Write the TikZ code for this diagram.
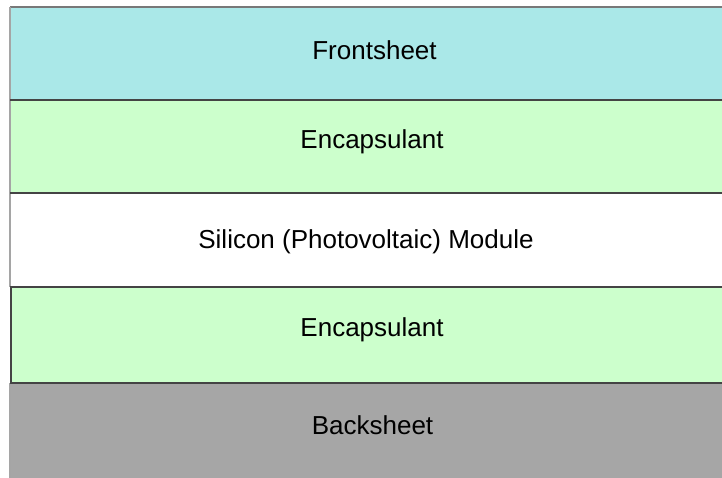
\documentclass[tikz,border=0pt]{standalone}
\usepackage{fontspec}
\setmainfont{Liberation Sans}
\definecolor{frontc}{RGB}{170,232,232}
\definecolor{encc}{RGB}{204,255,204}
\definecolor{backc}{RGB}{166,166,166}
\definecolor{darkline}{RGB}{68,68,68}
\definecolor{topgray}{RGB}{120,120,120}
\definecolor{leftgray}{RGB}{165,165,165}
\tikzset{
  layer/.style={rectangle, draw=none, anchor=north west, inner sep=0pt, outer sep=0pt, minimum width=730pt},
  lbl/.style={anchor=base, inner sep=0pt, font=\fontsize{26}{30}\selectfont, text=black},
  sep/.style={draw=darkline, line width=2pt},
  edge/.style={draw=leftgray, line width=1.5pt},
}
\begin{document}
\begin{tikzpicture}[x=1pt,y=-1pt]
\useasboundingbox (0,0) rectangle (722,478);
\clip (0,0) rectangle (722,478);
\fill[white] (0,0) rectangle (722,478);
% layers
\node[layer, fill=frontc, minimum height=93pt] (front) at (10,7) {};
\node[layer, fill=encc, minimum height=93pt] (enc1) at (10,100) {};
\node[layer, fill=white, minimum height=94pt] (si) at (10,193) {};
\node[layer, fill=encc, minimum height=96pt] (enc2) at (10,287) {};
\node[layer, fill=backc, minimum height=100pt] (back) at (10,383) {};
% borders
\draw[draw=topgray, line width=1.5pt] (front.north west) -- (front.north east);
\draw[edge] (front.north west) -- (front.south west);
\draw[edge] (enc1.north west) -- (enc1.south west);
\draw[edge] (si.north west) -- (si.south west);
\draw[sep] ([xshift=1pt]enc2.north west) -- ([xshift=1pt]enc2.south west);
\draw[edge] (back.north west) -- (back.south west);
\draw[sep] (front.south west) -- (front.south east);
\draw[sep] (enc1.south west) -- (enc1.south east);
\draw[sep] (si.south west) -- (si.south east);
\draw[sep] (enc2.south west) -- (enc2.south east);
% labels
\node[lbl] (tfront) at (374.5,60) {Frontsheet};
\node[lbl] (tenc1) at (372,149) {Encapsulant};
\node[lbl] (tsi) at (366,248) {Silicon (Photovoltaic) Module};
\node[lbl] (tenc2) at (372,336) {Encapsulant};
\node[lbl] (tback) at (372.5,434) {Backsheet};
\end{tikzpicture}
\end{document}
